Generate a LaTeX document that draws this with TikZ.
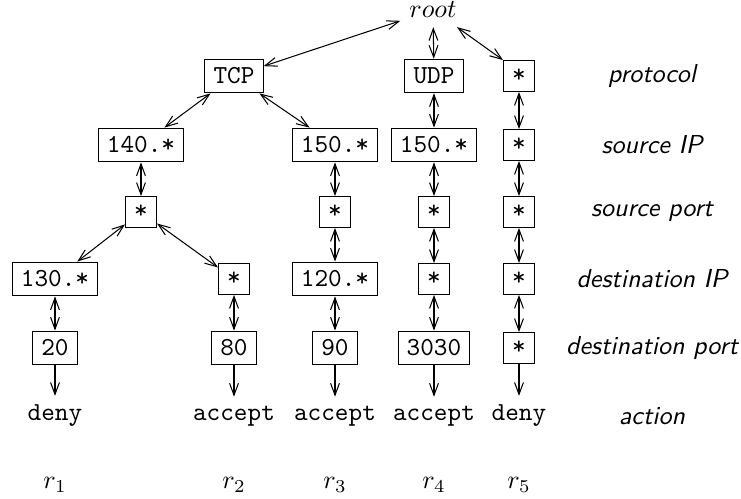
\documentclass[tikz,border=0pt]{standalone}
\usetikzlibrary{arrows.meta}
\begin{document}
\begin{tikzpicture}[x=0.385pt,y=-0.385pt,
  tip/.tip={Straight Barb[length=4.6pt,width=3.4pt,line width=0.4pt]},
  field/.style={draw,font=\ttfamily},
  act/.style={font=\ttfamily},
  lbl/.style={font=\sffamily\itshape},
  link/.style={tip-tip},
  toaction/.style={-tip}]
\useasboundingbox (0,0) rectangle (741,499);
% root
\node (root) at (433,10) {$root$};
% protocol row
\node[field] (p1) at (234,76) {TCP};
\node[field] (p4) at (434,76) {UDP};
\node[field] (p5) at (519,76) {*};
% source IP row
\node[field] (s1) at (141,145) {140.*};
\node[field] (s3) at (335,145) {150.*};
\node[field] (s4) at (434,145) {150.*};
\node[field] (s5) at (519,145) {*};
% source port row
\node[field] (q1) at (141,212) {*};
\node[field] (q3) at (335,212) {*};
\node[field] (q4) at (434,212) {*};
\node[field] (q5) at (519,212) {*};
% destination IP row
\node[field] (d1) at (55,279) {130.*};
\node[field] (d2) at (234,279) {*};
\node[field] (d3) at (335,279) {120.*};
\node[field] (d4) at (434,279) {*};
\node[field] (d5) at (519,279) {*};
% destination port row
\node[field] (e1) at (55,348) {20};
\node[field] (e2) at (234,348) {80};
\node[field] (e3) at (335,348) {90};
\node[field] (e4) at (434,348) {3030};
\node[field] (e5) at (519,348) {*};
% action row
\node[act] (a1) at (55,416) {deny};
\node[act] (a2) at (234,416) {accept};
\node[act] (a3) at (335,416) {accept};
\node[act] (a4) at (434,416) {accept};
\node[act] (a5) at (519,416) {deny};
% rule labels
\node (r1) at (55,485) {$r_1$};
\node (r2) at (234,485) {$r_2$};
\node (r3) at (335,485) {$r_3$};
\node (r4) at (434,485) {$r_4$};
\node (r5) at (519,485) {$r_5$};
% field labels
\node[lbl] (lp) at (652,76) {protocol};
\node[lbl] (ls) at (652,145) {source IP};
\node[lbl] (lq) at (652,212) {source port};
\node[lbl] (ld) at (652,279) {destination IP};
\node[lbl] (le) at (652,348) {destination port};
\node[lbl] (la) at (652,416) {action};
% connectors
\draw[link] (root) -- (p1);
\draw[link] (root) -- (p4);
\draw[link] (root) -- (p5.north west);
\draw[link] (p1) -- (s1);
\draw[link] (p1) -- (s3);
\draw[link] (p4) -- (s4);
\draw[link] (p5) -- (s5);
\draw[link] (s1) -- (q1);
\draw[link] (s3) -- (q3);
\draw[link] (s4) -- (q4);
\draw[link] (s5) -- (q5);
\draw[link] (q1) -- (d1);
\draw[link] (q1) -- (d2);
\draw[link] (q3) -- (d3);
\draw[link] (q4) -- (d4);
\draw[link] (q5) -- (d5);
\draw[link] (d1) -- (e1);
\draw[link] (d2) -- (e2);
\draw[link] (d3) -- (e3);
\draw[link] (d4) -- (e4);
\draw[link] (d5) -- (e5);
\draw[toaction] (e1) -- (a1);
\draw[toaction] (e2) -- (a2);
\draw[toaction] (e3) -- (a3);
\draw[toaction] (e4) -- (a4);
\draw[toaction] (e5) -- (a5);
\end{tikzpicture}
\end{document}
